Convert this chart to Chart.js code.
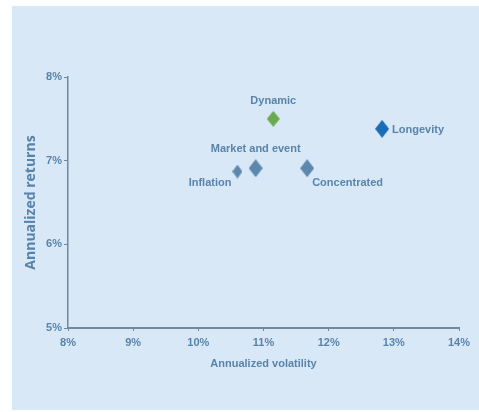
<!DOCTYPE html>
<html>
<head>
<meta charset="utf-8">
<script src="https://cdn.jsdelivr.net/npm/chart.js@4"></script>
<style>
  html, body { margin: 0; padding: 0; background: #fff; }
  #panel { position: absolute; left: 12px; top: 6px; width: 467px; height: 404px; background: #d9e8f6; }
  #chart { display: block; }
</style>
</head>
<body>
<div id="panel"><canvas id="chart" width="467" height="404"></canvas></div>
<script>
const strategies = ['Inflation', 'Market and event', 'Dynamic', 'Concentrated', 'Longevity'];
const volatility = [10.6, 10.88, 11.15, 11.67, 12.82];
const returns = [6.87, 6.91, 7.5, 6.91, 7.38];
const xTicks = [8, 9, 10, 11, 12, 13, 14];
const yTicks = [5, 6, 7, 8];

const textColor = '#5884ab';
const axisColor = '#6f879f';
const narrow = '"Liberation Sans Narrow", "Arial Narrow", sans-serif';

// diamond markers are a bit taller than wide, so draw them on small canvases
function diamond(w, h, color) {
    const c = document.createElement('canvas');
    c.width = w; c.height = h;
    const g = c.getContext('2d');
    g.fillStyle = color;
    g.beginPath();
    g.moveTo(w / 2, 0);
    g.lineTo(w, h / 2);
    g.lineTo(w / 2, h);
    g.lineTo(0, h / 2);
    g.closePath();
    g.fill();
    return c;
}

const markers = [
    diamond(10, 14, '#5c88ad'),
    diamond(14, 18, '#5c88ad'),
    diamond(13, 16, '#6aab52'),
    diamond(14, 18, '#5c88ad'),
    diamond(14, 18, '#1a6cb6')
];

// where each name sits relative to its marker
const labelPos = [
    {dx: -6, dy: 11, align: 'right'},
    {dx: 0, dy: -19, align: 'center'},
    {dx: 0, dy: -18, align: 'center'},
    {dx: 5, dy: 15, align: 'left'},
    {dx: 10, dy: 1, align: 'left'}
];

const pointLabels = {
    id: 'pointLabels',
    afterDatasetsDraw(chart) {
        const ctx = chart.ctx;
        const meta = chart.getDatasetMeta(0);
        ctx.save();
        ctx.font = 'bold 11px ' + narrow;
        ctx.fillStyle = textColor;
        ctx.textBaseline = 'middle';
        meta.data.forEach(function (pt, i) {
            const p = labelPos[i];
            ctx.textAlign = p.align;
            ctx.fillText(strategies[i], pt.x + p.dx, pt.y + p.dy);
        });
        ctx.restore();
    }
};

new Chart(document.getElementById('chart'), {
    type: 'scatter',
    data: {
        datasets: [{
            data: volatility.map(function (v, i) { return {x: v, y: returns[i]}; }),
            pointStyle: markers,
            pointRadius: 8
        }]
    },
    options: {
        responsive: false,
        animation: false,
        events: [],
        layout: {padding: {left: 0, top: 71, right: 20, bottom: 39}},
        plugins: {legend: {display: false}, tooltip: {enabled: false}},
        scales: {
            x: {
                type: 'linear',
                min: 8, max: 14,
                afterBuildTicks: function (s) { s.ticks = xTicks.map(function (v) { return {value: v}; }); },
                afterFit: function (s) { s.height = 43; },
                border: {color: axisColor, width: 2},
                grid: {display: true, drawOnChartArea: false, tickLength: 3, color: axisColor},
                ticks: {
                    color: textColor, padding: 5, maxRotation: 0,
                    font: {family: narrow, size: 11, weight: 'bold'},
                    callback: function (v) { return v + '%'; }
                },
                title: {
                    display: true, text: 'Annualized volatility', color: textColor,
                    font: {family: narrow, size: 11, weight: 'bold'},
                    padding: {top: 2, bottom: 0}
                }
            },
            y: {
                type: 'linear',
                min: 5, max: 8,
                afterBuildTicks: function (s) { s.ticks = yTicks.map(function (v) { return {value: v}; }); },
                afterFit: function (s) { s.width = 56; },
                border: {color: axisColor, width: 1.5},
                grid: {display: true, drawOnChartArea: false, tickLength: 4, color: axisColor},
                ticks: {
                    color: textColor, padding: 2,
                    font: {family: narrow, size: 11, weight: 'bold'},
                    callback: function (v) { return v + '%'; }
                },
                title: {
                    display: true, text: 'Annualized returns', color: textColor,
                    font: {family: '"Open Sans", sans-serif', size: 14, weight: 'bold'},
                    padding: {top: 11, bottom: 0}
                }
            }
        }
    },
    plugins: [pointLabels]
});
</script>
</body>
</html>
